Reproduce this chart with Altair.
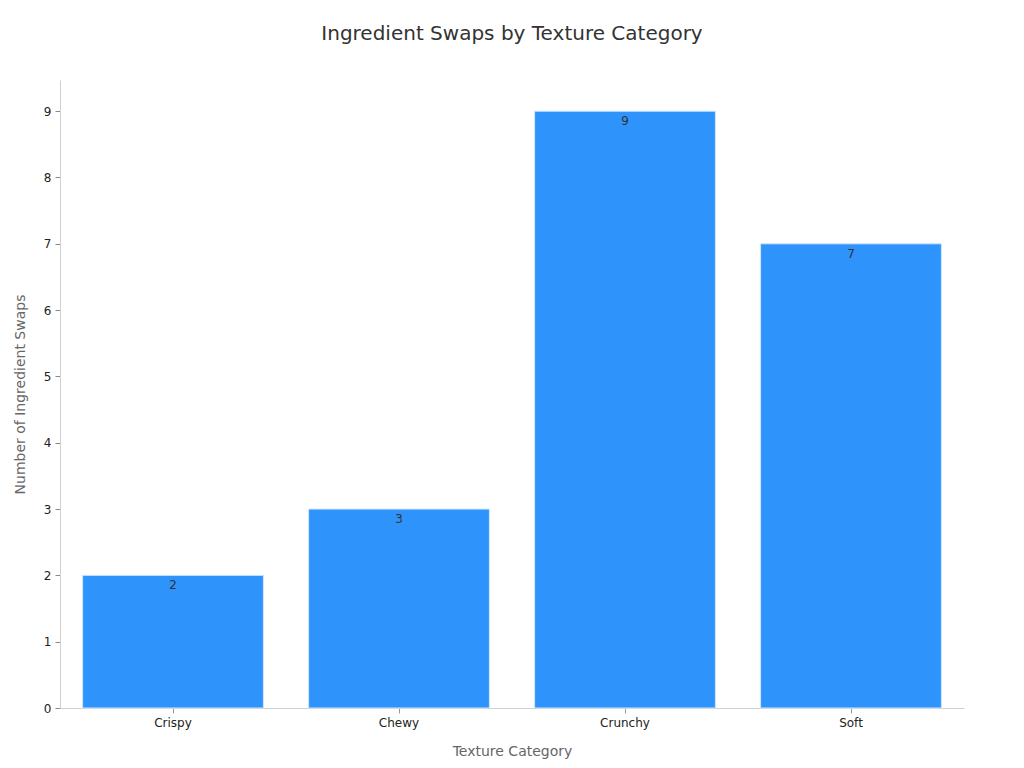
import altair as alt
import pandas as pd

categories = ["Crispy", "Chewy", "Crunchy", "Soft"]
swaps = [2, 3, 9, 7]

df = pd.DataFrame({"Texture": categories, "Swaps": swaps})

font = "DejaVu Sans"

base = alt.Chart(df).encode(
    x=alt.X("Texture:N", sort=categories, title="Texture Category",
            scale=alt.Scale(paddingInner=0.2, paddingOuter=0.1),
            axis=alt.Axis(labelAngle=0, labelFontSize=12, labelColor="#222222",
                          titleFontSize=14, titleColor="#666666", titleFontWeight="normal",
                          titlePadding=16, labelPadding=4,
                          domainColor="#d0d0d0", tickColor="#999999", tickSize=5,
                          labelFont=font, titleFont=font)),
    y=alt.Y("Swaps:Q", title="Number of Ingredient Swaps",
            scale=alt.Scale(domain=[0, 9.47], nice=False),
            axis=alt.Axis(values=list(range(0, 10)), grid=False, labelFontSize=12,
                          labelColor="#222222", titleFontSize=14, titleColor="#666666",
                          titleFontWeight="normal", titlePadding=16, labelPadding=4,
                          domainColor="#d0d0d0", tickColor="#888888", tickSize=5,
                          ticks=True, labelFont=font, titleFont=font)),
)

bars = base.mark_bar(color="#2E93FA", stroke="#cfe6ff", strokeWidth=1)
labels = base.mark_text(baseline="top", dy=5, fontSize=12, color="#333333", font=font).encode(
    text="Swaps:Q")

chart = (bars + labels).properties(
    width=904, height=628,
    title=alt.TitleParams("Ingredient Swaps by Texture Category", fontSize=20,
                          font=font, fontWeight="normal", color="#333333",
                          anchor="middle", offset=36),
    autosize=alt.AutoSizeParams(type="none"),
    padding={"left": 52, "top": 72, "right": 52, "bottom": 52},
    background="white",
).configure_view(strokeWidth=0, stroke="transparent")

chart.save("out.html", embed_options={"renderer": "svg", "actions": False})
